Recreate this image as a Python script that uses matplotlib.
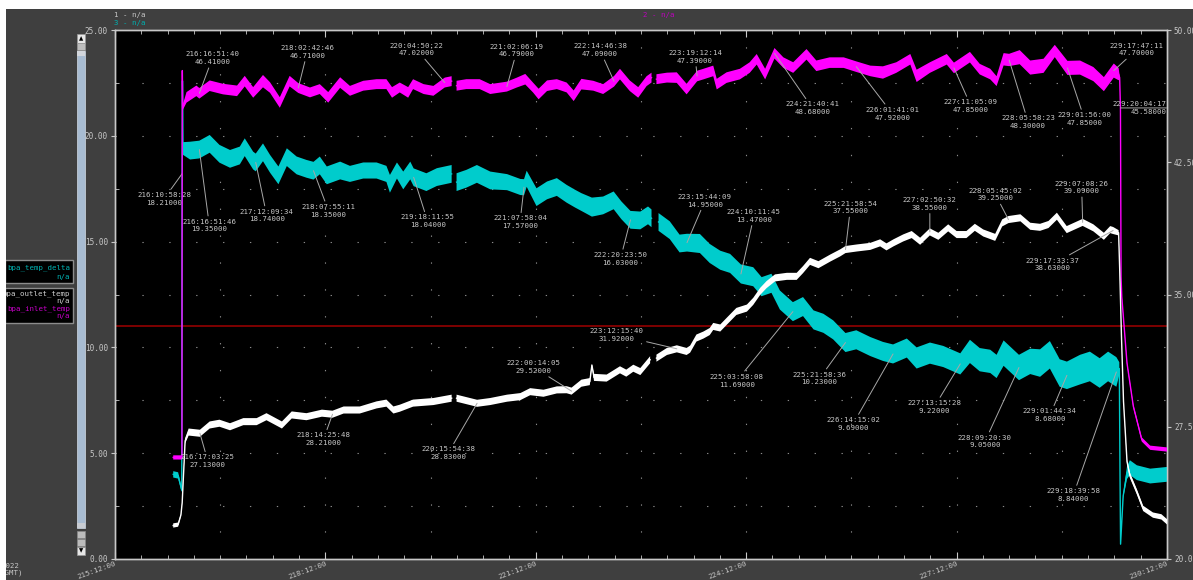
import numpy as np
import matplotlib
matplotlib.use('Agg')
import matplotlib.pyplot as plt
from matplotlib.patches import Rectangle
from matplotlib.ticker import FixedLocator, FormatStrFormatter

plt.rcParams['font.family'] = 'DejaVu Sans Mono'

W, H = 1193, 580
nan = np.nan

# bpa_inlet_temp (right axis): day of year, value, half width of the noise band
inlet_day = [216.33, 216.455, 216.456, 216.46, 216.465, 216.52, 216.66, 216.7026,
             216.85, 217.04, 217.24, 217.35, 217.47, 217.61, 217.71, 217.85,
             217.99, 218.113, 218.28, 218.42, 218.54, 218.71, 218.85, 219.04,
             219.23, 219.37, 219.45, 219.56, 219.68, 219.75, 219.90, 220.04,
             220.2016, 220.30, 220.33, 220.37, 220.51, 220.70, 220.85, 221.0877,
             221.23, 221.35, 221.46, 221.54, 221.66, 221.80, 221.94, 222.04,
             222.15, 222.32, 222.46, 222.6157, 222.70, 222.84, 222.96, 223.08,
             223.15, 223.18, 223.22, 223.37, 223.51, 223.65, 223.8002, 223.89,
             224.03, 224.08, 224.22, 224.41, 224.55, 224.65, 224.77, 224.9032,
             225.03, 225.17, 225.36, 225.50, 225.69, 225.89, 226.0701, 226.27,
             226.45, 226.64, 226.84, 226.93, 227.12, 227.36, 227.4619, 227.69,
             227.83, 227.98, 228.07, 228.17, 228.2489, 228.40, 228.55, 228.74,
             228.90, 229.0806, 229.26, 229.45, 229.60, 229.7411, 229.81, 229.825,
             229.8363, 229.845, 229.855, 229.93, 230.02, 230.14, 230.26, 230.50]
inlet_val = [25.76, 25.76, 36.0, 47.7, 45.6, 46.18, 46.55, 46.41,
             46.84, 46.65, 46.55, 47.10, 46.46, 47.10, 46.74, 45.89,
             47.10, 46.71, 46.46, 46.65, 46.18, 47.02, 46.55, 46.84,
             46.93, 46.93, 46.46, 46.74, 46.46, 46.93, 46.65, 46.55,
             47.02, 47.10, nan, 46.84, 46.93, 46.93, 46.65, 46.79,
             47.02, 47.21, 46.74, 46.37, 46.84, 46.93, 46.74, 46.27,
             46.93, 46.84, 46.65, 47.09, 47.50, 46.84, 46.46, 47.10,
             47.30, nan, 47.21, 47.30, 47.30, 46.65, 47.39, 47.50,
             47.68, 46.93, 47.30, 47.50, 47.87, 48.34, 47.50, 48.68,
             48.15, 47.87, 48.62, 47.97, 48.15, 48.15, 47.92, 47.68,
             47.59, 47.87, 48.34, 47.40, 47.87, 48.34, 47.85, 48.46,
             47.78, 47.50, 47.10, 48.34, 48.30, 48.46, 47.87, 47.97,
             48.81, 47.85, 47.87, 47.50, 46.93, 47.70, 47.50, 47.30,
             45.58, 36.0, 34.88, 31.10, 28.66, 26.78, 26.31, 26.21]
inlet_band = [0.12, 0.12, 0, 0, 0.15, 0.3, 0.3, 0.3,
              0.3, 0.3, 0.3, 0.3, 0.3, 0.35, 0.3, 0.3,
              0.3, 0.28, 0.28, 0.28, 0.3, 0.3, 0.28, 0.28,
              0.28, 0.28, 0.3, 0.28, 0.3, 0.28, 0.28, 0.28,
              0.28, 0.28, 0, 0.28, 0.28, 0.28, 0.28, 0.28,
              0.28, 0.3, 0.28, 0.3, 0.3, 0.28, 0.28, 0.3,
              0.3, 0.28, 0.28, 0.3, 0.3, 0.3, 0.3, 0.28,
              0.28, 0, 0.28, 0.28, 0.3, 0.3, 0.3, 0.3,
              0.3, 0.3, 0.3, 0.3, 0.3, 0.3, 0.3, 0.3,
              0.3, 0.3, 0.3, 0.3, 0.3, 0.3, 0.3, 0.3,
              0.35, 0.3, 0.3, 0.35, 0.3, 0.3, 0.3, 0.3,
              0.3, 0.3, 0.28, 0.35, 0.35, 0.4, 0.4, 0.4,
              0.35, 0.4, 0.4, 0.4, 0.4, 0.4, 0.35, 0.1,
              0, 0, 0.05, 0.08, 0.1, 0.12, 0.12, 0.12]

# bpa_temp_delta (left axis)
delta_day = [216.33, 216.40, 216.452, 216.4573, 216.462, 216.47, 216.57, 216.7026,
             216.85, 216.99, 217.14, 217.28, 217.35, 217.47, 217.5066, 217.61,
             217.71, 217.83, 217.95, 218.09, 218.23, 218.33, 218.42, 218.52,
             218.71, 218.85, 219.04, 219.23, 219.37, 219.42, 219.52, 219.61,
             219.71, 219.7583, 219.94, 220.09, 220.30, 220.33, 220.37, 220.51,
             220.66, 220.85, 221.09, 221.28, 221.332, 221.37, 221.51, 221.66,
             221.80, 221.94, 222.06, 222.15, 222.30, 222.46, 222.61, 222.72,
             222.8499, 222.99, 223.10, 223.15, 223.18, 223.25, 223.41, 223.55,
             223.6557, 223.84, 223.98, 224.13, 224.27, 224.4248, 224.60, 224.72,
             224.86, 224.98, 225.1654, 225.31, 225.46, 225.60, 225.74, 225.9157,
             226.07, 226.27, 226.45, 226.5938, 226.79, 226.93, 227.12, 227.31,
             227.5524, 227.69, 227.83, 227.98, 228.07, 228.17, 228.3892, 228.55,
             228.69, 228.83, 228.97, 229.0726, 229.26, 229.40, 229.54, 229.66,
             229.7778, 229.82, 229.83, 229.838, 229.875, 229.93, 229.97, 230.07,
             230.26, 230.50]
delta_val = [4.00, 3.95, 3.25, 18.21, 22.6, 19.40, 19.30, 19.35,
             19.62, 19.15, 18.91, 19.07, 19.46, 18.83, 18.74, 19.22,
             18.68, 18.13, 18.99, 18.60, 18.44, 18.35, 18.60, 18.13,
             18.36, 18.20, 18.36, 18.36, 18.20, 17.73, 18.36, 17.89,
             18.36, 18.04, 17.81, 18.05, 18.20, nan, 17.81, 17.97,
             18.20, 17.89, 17.81, 17.58, 17.57, 17.97, 17.10, 17.42,
             17.58, 17.26, 17.03, 16.87, 16.63, 16.71, 16.95, 16.48,
             16.03, 16.00, 16.24, 16.10, nan, 15.93, 15.54, 14.91,
             14.95, 14.91, 14.44, 14.12, 13.97, 13.47, 13.34, 12.87,
             13.03, 12.24, 11.69, 11.93, 11.30, 11.14, 10.83, 10.23,
             10.36, 10.04, 9.81, 9.69, 9.97, 9.50, 9.73, 9.57,
             9.22, 9.81, 9.42, 9.34, 9.10, 9.73, 9.05, 9.34,
             9.26, 9.65, 8.79, 8.68, 8.95, 9.10, 8.79, 9.10,
             8.84, 9.00, 4.00, 0.70, 2.98, 4.08, 4.32, 4.08,
             3.92, 4.00]
delta_band = [0.15, 0.15, 0.1, 0, 0, 0.3, 0.42, 0.42,
              0.42, 0.42, 0.42, 0.42, 0.42, 0.42, 0.42, 0.42,
              0.42, 0.42, 0.42, 0.42, 0.42, 0.42, 0.42, 0.42,
              0.42, 0.38, 0.38, 0.38, 0.38, 0.42, 0.38, 0.42,
              0.42, 0.42, 0.42, 0.42, 0.42, 0, 0.42, 0.42,
              0.42, 0.42, 0.38, 0.38, 0.38, 0.38, 0.42, 0.42,
              0.42, 0.42, 0.42, 0.42, 0.45, 0.42, 0.42, 0.42,
              0.42, 0.42, 0.42, 0.42, 0, 0.42, 0.42, 0.42,
              0.42, 0.45, 0.45, 0.45, 0.45, 0.45, 0.45, 0.45,
              0.45, 0.45, 0.45, 0.45, 0.45, 0.45, 0.45, 0.45,
              0.45, 0.45, 0.45, 0.45, 0.45, 0.5, 0.5, 0.5,
              0.5, 0.55, 0.55, 0.55, 0.55, 0.6, 0.6, 0.6,
              0.65, 0.65, 0.65, 0.65, 0.7, 0.7, 0.7, 0.7,
              0.7, 0.3, 0, 0, 0.1, 0.3, 0.35, 0.35,
              0.35, 0.35]

# bpa_outlet_temp (right axis)
outlet_day = [216.33, 216.40, 216.44, 216.458, 216.50, 216.55, 216.7107, 216.85,
              216.99, 217.14, 217.33, 217.52, 217.66, 217.88, 218.02, 218.23,
              218.45, 218.6013, 218.76, 218.99, 219.23, 219.37, 219.47, 219.56,
              219.75, 220.04, 220.30, 220.33, 220.37, 220.6629, 220.85, 221.09,
              221.28, 221.42, 221.61, 221.80, 221.94, 222.0098, 222.15, 222.27,
              222.30, 222.33, 222.51, 222.70, 222.79, 222.89, 222.99, 223.13,
              223.18, 223.22, 223.37, 223.5109, 223.65, 223.70, 223.79, 223.89,
              223.98, 224.03, 224.13, 224.22, 224.36, 224.51, 224.60, 224.70,
              224.79, 224.91, 225.08, 225.22, 225.31, 225.41, 225.53, 225.70,
              225.84, 225.9159, 226.08, 226.27, 226.41, 226.50, 226.60, 226.74,
              226.86, 226.98, 227.1184, 227.24, 227.38, 227.50, 227.64, 227.76,
              227.88, 228.05, 228.15, 228.2396, 228.41, 228.55, 228.69, 228.81,
              228.93, 229.07, 229.2975, 229.45, 229.60, 229.69, 229.7317, 229.81,
              229.825, 229.85, 229.88, 229.93, 229.97, 230.07, 230.16, 230.30,
              230.42, 230.50]
outlet_val = [21.90, 21.95, 22.50, 23.20, 26.70, 27.20, 27.13, 27.60,
              27.70, 27.50, 27.79, 27.79, 28.07, 27.60, 28.17, 28.07,
              28.27, 28.21, 28.45, 28.45, 28.74, 28.84, 28.45, 28.55,
              28.84, 28.93, 29.12, nan, 29.12, 28.83, 28.93, 29.12,
              29.21, 29.49, 29.40, 29.59, 29.60, 29.52, 29.97, 30.06,
              31.00, 30.30, 30.26, 30.73, 30.54, 30.82, 30.63, 31.30,
              nan, 31.39, 31.77, 31.92, 31.77, 31.90, 32.53, 32.70,
              32.90, 33.19, 33.10, 33.47, 34.04, 34.23, 34.61, 35.18,
              35.56, 35.94, 36.03, 36.03, 36.41, 36.88, 36.69, 37.07,
              37.36, 37.55, 37.64, 37.73, 37.93, 37.70, 37.93, 38.21,
              38.40, 38.02, 38.55, 38.30, 38.78, 38.40, 38.40, 38.81,
              38.49, 38.24, 39.06, 39.25, 39.35, 38.87, 38.81, 38.97,
              39.44, 38.68, 39.09, 38.78, 38.30, 38.68, 38.63, 38.50,
              36.50, 32.72, 28.93, 25.52, 24.76, 23.81, 22.87, 22.49,
              22.39, 22.11]
outlet_band = [0.12, 0.12, 0.05, 0.05, 0.15, 0.2, 0.2, 0.2,
               0.2, 0.2, 0.2, 0.2, 0.2, 0.2, 0.2, 0.2,
               0.2, 0.2, 0.2, 0.2, 0.2, 0.2, 0.2, 0.2,
               0.2, 0.2, 0.2, 0, 0.2, 0.2, 0.2, 0.2,
               0.2, 0.2, 0.2, 0.2, 0.2, 0.2, 0.2, 0.2,
               0.05, 0.2, 0.2, 0.2, 0.2, 0.2, 0.2, 0.2,
               0, 0.2, 0.2, 0.2, 0.2, 0.2, 0.2, 0.2,
               0.2, 0.2, 0.2, 0.2, 0.2, 0.2, 0.2, 0.2,
               0.2, 0.2, 0.2, 0.2, 0.2, 0.2, 0.2, 0.2,
               0.2, 0.2, 0.2, 0.2, 0.2, 0.2, 0.2, 0.2,
               0.2, 0.2, 0.2, 0.2, 0.2, 0.2, 0.2, 0.2,
               0.2, 0.2, 0.2, 0.2, 0.2, 0.2, 0.2, 0.2,
               0.2, 0.2, 0.2, 0.2, 0.2, 0.2, 0.2, 0.15,
               0.05, 0.05, 0.05, 0.1, 0.15, 0.15, 0.15, 0.15,
               0.15, 0.15]

delta_limit = 11.0

# labelled samples
inlet_note_stamps = ['216:16:51:40', '218:02:42:46', '220:04:50:22', '221:02:06:19',
                     '222:14:46:38', '223:19:12:14', '224:21:40:41', '226:01:41:01',
                     '227:11:05:09', '228:05:58:23', '229:01:56:00', '229:17:47:11']
inlet_note_values = [46.41, 46.71, 47.02, 46.79, 47.09, 47.39, 48.68, 47.92,
                     47.85, 48.30, 47.85, 47.70]
inlet_end_stamp, inlet_end_value = '229:20:04:17', 45.58

delta_note_stamps = ['216:10:58:28', '216:16:51:46', '217:12:09:34', '218:07:55:11',
                     '219:18:11:55', '221:07:58:04', '222:20:23:50', '223:15:44:09',
                     '224:10:11:45', '225:03:58:08', '225:21:58:36', '226:14:15:02',
                     '227:13:15:28', '228:09:20:30', '229:01:44:34', '229:18:39:58']
delta_note_values = [18.21, 19.35, 18.74, 18.35, 18.04, 17.57, 16.03, 14.95,
                     13.47, 11.69, 10.23, 9.69, 9.22, 9.05, 8.68, 8.84]

outlet_note_stamps = ['216:17:03:25', '218:14:25:48', '220:15:54:38', '222:00:14:05',
                      '223:12:15:40', '225:21:58:54', '227:02:50:32', '228:05:45:02',
                      '229:07:08:26', '229:17:33:37']
outlet_note_values = [27.13, 28.21, 28.83, 29.52, 31.92, 37.55, 38.55, 39.25,
                      39.09, 38.63]

# label placement, pixel offsets from the labelled sample
inlet_note_offsets = [(13, 35), (9, 36), (-28, 33), (10, 36), (-14, 31), (-2, 19),
                      (38, -55), (36, -47), (17, -38), (19, -62), (17, -51), (23, 21)]
delta_note_offsets = [(-18, -25), (10, -76), (11, -53), (15, -40), (14, -44), (-4, -35),
                      (-10, -39), (18, 42), (13, 58), (-56, -69), (-26, -36), (-40, -70),
                      (-26, -43), (-34, -74), (-17, -40), (-43, -123)]
outlet_note_offsets = [(8, -28), (-9, -25), (-29, -50), (-38, 24), (-60, 14), (5, 42),
                       (0, 28), (-13, 25), (-1, 35), (-61, -34)]

x_tick_days = [215.5, 218.5, 221.5, 224.5, 227.5, 230.5]
x_tick_labels = ['215:12:00', '218:12:00', '221:12:00', '224:12:00', '227:12:00', '230:12:00']

MAGENTA = '#ff00ff'
CYAN = '#00cccc'
WHITE = '#ffffff'
FRAME = '#c8c8c8'
NOTE = '#c8c8c8'
LEAD = '#a8a8a8'


def stamp_day(stamp):
    doy, hh, mm, ss = (int(p) for p in stamp.split(':'))
    return doy + (hh * 3600 + mm * 60 + ss) / 86400.0


def draw_series(ax, day, val, band, color):
    day = np.array(day)
    val = np.array(val, dtype=float)
    band = np.array(band)
    ax.fill_between(day, val - band, val + band, color=color, lw=0, zorder=3)
    ax.plot(day, val, color=color, lw=1.0, zorder=3)


def add_notes(ax, stamps, values, offsets):
    for stamp, value, (dx, dy) in zip(stamps, values, offsets):
        ax.annotate(f'{stamp}\n{value:.5f}', xy=(stamp_day(stamp), value),
                    xytext=(dx, dy), textcoords='offset pixels',
                    ha='center', va='center', fontsize=5.3, linespacing=1.35,
                    color=NOTE, zorder=6,
                    arrowprops=dict(arrowstyle='-', color=LEAD, lw=0.7,
                                    shrinkA=0, shrinkB=0))


def px_rect(fig, x0, y0, x1, y1, **kw):
    fig.patches.append(Rectangle((x0 / W, 1 - y1 / H), (x1 - x0) / W, (y1 - y0) / H,
                                 transform=fig.transFigure, **kw))


def px_text(fig, x, y, s, **kw):
    fig.text(x / W, 1 - y / H, s, **kw)


fig = plt.figure(figsize=(W / 100, H / 100), dpi=100, facecolor='#3f3f3f')
ax = fig.add_axes([115 / W, 21 / H, 1052 / W, 529 / H])
ax.set_facecolor('black')
ax2 = ax.twinx()

ax.set_xlim(215.5, 230.5)
ax.set_ylim(0, 25)
ax2.set_ylim(20, 50)

# dotted grid
grid_style = dict(color='#8a8a8a', lw=0.8, linestyle=(0, (1.2, 23)), zorder=1)
for d in np.arange(217.0, 230.4, 1.5):
    ax.axvline(d, **grid_style)
for v in np.arange(2.5, 24.9, 2.5):
    ax.axhline(v, **grid_style)

ax.axhline(delta_limit, color='#a00000', lw=1.1, zorder=2)

draw_series(ax, delta_day, delta_val, delta_band, CYAN)
draw_series(ax2, inlet_day, inlet_val, inlet_band, MAGENTA)
draw_series(ax2, outlet_day, outlet_val, outlet_band, WHITE)

add_notes(ax, delta_note_stamps, delta_note_values, delta_note_offsets)
add_notes(ax2, inlet_note_stamps, inlet_note_values, inlet_note_offsets)
add_notes(ax2, outlet_note_stamps, outlet_note_values, outlet_note_offsets)
ax2.annotate(f'{inlet_end_stamp}\n{inlet_end_value:.5f}',
             xy=(stamp_day(inlet_end_stamp), inlet_end_value),
             xytext=(19, 0), textcoords='offset pixels', ha='center', va='center',
             multialignment='right', fontsize=5.3, linespacing=1.35, color=NOTE, zorder=6,
             arrowprops=dict(arrowstyle='-', color=LEAD, lw=0.7, relpos=(1.0, 0.5),
                             patchA=None, shrinkA=0, shrinkB=0))

# axes, ticks
for a in (ax, ax2):
    for sp in a.spines.values():
        sp.set_color(FRAME)
        sp.set_linewidth(1.0)

ax.set_xticks(x_tick_days)
ax.set_xticklabels(x_tick_labels, rotation=20, ha='right', rotation_mode='anchor')
ax.xaxis.set_minor_locator(FixedLocator(np.arange(215.5, 230.51, 0.375)))
ax.tick_params(axis='x', which='both', direction='in', top=True, colors=FRAME,
               labelsize=5.3, pad=1)
ax.tick_params(axis='x', which='major', length=5)
ax.tick_params(axis='x', which='minor', length=3)

ax.set_yticks(np.arange(0, 25.1, 5))
ax.yaxis.set_major_formatter(FormatStrFormatter('%.2f'))
ax.yaxis.set_minor_locator(FixedLocator(np.arange(0, 25.1, 2.5)))
ax.tick_params(axis='y', which='major', direction='out', length=3, colors=FRAME,
               labelsize=5.5, pad=2)
ax.tick_params(axis='y', which='minor', direction='in', length=3, colors=FRAME)

ax2.set_yticks([20, 27.5, 35, 42.5, 50])
ax2.yaxis.set_major_formatter(FormatStrFormatter('%.2f'))
ax2.tick_params(axis='y', which='major', direction='out', length=3, colors=FRAME,
                labelsize=5.5, pad=2)

# header
px_text(fig, 114, 15, '1 - n/a', color='#c8c8c8', fontsize=5.3, va='center')
px_text(fig, 114, 23, '3 - n/a', color='#00b0b0', fontsize=5.3, va='center')
px_text(fig, 643, 15, '2 - n/a', color='#c000c0', fontsize=5.3, va='center')

# series boxes on the left
px_rect(fig, 5, 260, 73, 283, facecolor='black', edgecolor='#8c8c8c', lw=1)
px_text(fig, 70, 267.5, 'bpa_temp_delta', color='#00b4b4', fontsize=5.3, ha='right', va='center')
px_text(fig, 70, 277.5, 'n/a', color='#00b4b4', fontsize=5.3, ha='right', va='center')
px_rect(fig, 5, 288, 73, 323, facecolor='black', edgecolor='#8c8c8c', lw=1)
px_text(fig, 70, 294, 'bpa_outlet_temp', color='#d0d0d0', fontsize=5.3, ha='right', va='center')
px_text(fig, 70, 301, 'n/a', color='#d0d0d0', fontsize=5.3, ha='right', va='center')
px_text(fig, 70, 308.5, 'bpa_inlet_temp', color='#c800c8', fontsize=5.3, ha='right', va='center')
px_text(fig, 70, 316, 'n/a', color='#c800c8', fontsize=5.3, ha='right', va='center')

# scroll bar
px_rect(fig, 77, 34, 85, 43, facecolor='#e6e6e6', edgecolor='#9a9a9a', lw=0.5)
px_text(fig, 81, 38.5, '\u25b2', color='black', fontsize=4, ha='center', va='center',
        family='DejaVu Sans')
px_rect(fig, 77, 43, 85, 50, facecolor='#bdbdbd', edgecolor='#9a9a9a', lw=0.5)
px_rect(fig, 77, 51, 85, 528, facecolor='#a8bcd2', edgecolor='#c4ccd6', lw=0.6)
px_rect(fig, 77, 51, 85, 56, facecolor='#d2d6dc', lw=0)
px_rect(fig, 77, 523, 85, 528, facecolor='#c8ccd2', lw=0)
px_rect(fig, 77, 531, 85, 538, facecolor='#bcbcbc', edgecolor='#8a8a8a', lw=0.5)
px_rect(fig, 77, 539, 85, 546, facecolor='#bcbcbc', edgecolor='#8a8a8a', lw=0.5)
px_rect(fig, 77, 547, 85, 555, facecolor='#e6e6e6', edgecolor='#9a9a9a', lw=0.5)
px_text(fig, 81, 551, '\u25bc', color='black', fontsize=4, ha='center', va='center',
        family='DejaVu Sans')

px_text(fig, 1, 569, '2022\n(GMT)', color='#c8c8c8', fontsize=5.3, ha='left',
        va='center', linespacing=1.1)

# white margin along the top and left edge
px_rect(fig, 0, 0, W, 9, facecolor='white', lw=0, zorder=20)
px_rect(fig, 0, 0, 6, H, facecolor='white', lw=0, zorder=20)

fig.savefig('out.png', dpi=100, facecolor=fig.get_facecolor())
